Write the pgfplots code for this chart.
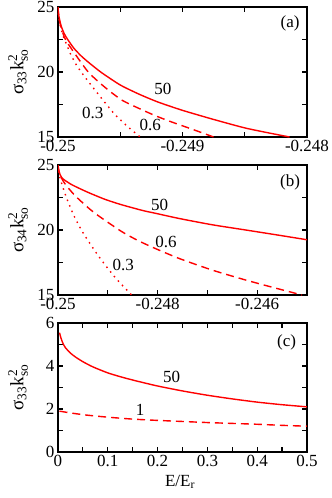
\documentclass[border=0pt]{standalone}
\usepackage{amsmath}
\usepackage{fontspec}
\setmainfont{Liberation Serif}
\usepackage{pgfplots}
\pgfplotsset{compat=1.18}

\newcommand{\lab}{\fontsize{17}{20}\selectfont}
\pgfplotsset{
  panel/.style={
    scale only axis, width=249pt, height=130pt,
    anchor=north west,
    axis line style={line width=1.4pt},
    tick align=inside, xtick pos=both, ytick pos=both,
    major tick length=5pt, minor tick length=5pt,
    every tick/.style={black, line width=1.2pt},
    minor x tick num=1, minor y tick num=1,
    tick label style={font=\lab},
    /pgf/number format/assume math mode=true,
    scaled x ticks=false, scaled y ticks=false,
    xticklabel style={/pgf/number format/fixed, /pgf/number format/precision=3},
    every axis y label/.style={at={(axis description cs:-0.16,0.5)}, rotate=90, anchor=center, font=\fontsize{19}{22}\selectfont},
  },
  s50/.style={red, line width=1.4pt, smooth, tension=0.4},
  sdash/.style={red, line width=1.4pt, dash pattern=on 8pt off 5pt, smooth, tension=0.4},
  sdot/.style={red, line width=1.4pt, dash pattern=on 1.5pt off 4.5pt, smooth, tension=0.4},
}

\begin{document}
\begin{tikzpicture}[x=1pt,y=1pt]
\path[use as bounding box] (0,0) rectangle (332,-498);

% (a)
\begin{axis}[panel, at={(58pt,-7pt)},
  xmin=-0.25, xmax=-0.248, ymin=15, ymax=25,
  xtick={-0.25,-0.249,-0.248}, ytick={15,20,25},
  ylabel={σ$_{\text{33}}$k$^{\text{2}}_{\text{so}}$}]
\addplot[s50] coordinates {
(-0.25,25.0) (-0.249997,24.55) (-0.24999,24.15) (-0.249975,23.55) (-0.24995,22.95)
(-0.249922,22.5) (-0.24987,21.8) (-0.24981,21.2) (-0.249743,20.65) (-0.24965,19.95)
(-0.2495,19.0) (-0.24935,18.3) (-0.2492,17.7) (-0.249,17.05) (-0.24875,16.35)
(-0.2485,15.7) (-0.2483,15.3) (-0.24814,15.0)};
\addplot[sdash] coordinates {
(-0.25,25.0) (-0.249995,24.4) (-0.249985,23.8) (-0.24995,22.7) (-0.2499,21.9)
(-0.249757,20.0) (-0.24962,18.8) (-0.249489,17.85) (-0.24935,17.2) (-0.249221,16.65)
(-0.2491,16.2) (-0.248967,15.75) (-0.24885,15.35) (-0.24875,15.0)};
\addplot[sdot] coordinates {
(-0.25,25.0) (-0.249996,24.4) (-0.249985,23.7) (-0.24996,22.8) (-0.24993,22.1)
(-0.2499,21.4) (-0.24985,20.5) (-0.249783,19.6) (-0.24971,18.7) (-0.249623,17.65)
(-0.24954,16.7) (-0.24944,15.8) (-0.24934,15.0)};
\node[font=\lab] at (axis cs:-0.249157,18.69) {50};
\node[font=\lab] at (axis cs:-0.24972,16.85) {0.3};
\node[font=\lab] at (axis cs:-0.24926,15.9) {0.6};
\node[font=\lab] at (rel axis cs:0.932,0.87) {(a)};
\end{axis}

% (b)
\begin{axis}[panel, at={(58pt,-165pt)},
  xmin=-0.25, xmax=-0.245, ymin=15, ymax=25,
  xtick={-0.25,-0.248,-0.246}, ytick={15,20,25},
  ylabel={σ$_{\text{34}}$k$^{\text{2}}_{\text{so}}$}]
\addplot[s50] coordinates {
(-0.25,25.0) (-0.24998,24.5) (-0.24992,24.0) (-0.24973,23.5) (-0.2494,22.9)
(-0.24905,22.35) (-0.24873,21.95) (-0.2483,21.5) (-0.24806,21.3) (-0.24756,20.88)
(-0.2469,20.4) (-0.24623,20.0) (-0.2456,19.62) (-0.245,19.25)};
\addplot[sdash] coordinates {
(-0.25,25.0) (-0.24998,24.5) (-0.24993,24.0) (-0.24985,23.5) (-0.24966,22.65)
(-0.24939,21.7) (-0.24919,21.1) (-0.24873,19.9) (-0.2484,19.2) (-0.24806,18.6)
(-0.24756,17.8) (-0.24689,16.9) (-0.24623,16.15) (-0.2457,15.6) (-0.2451,15.0)};
\addplot[sdot] coordinates {
(-0.25,25.0) (-0.24999,24.5) (-0.24996,24.0) (-0.24992,23.5) (-0.24985,22.7)
(-0.24979,22.1) (-0.24968,21.1) (-0.24953,20.0) (-0.2494,19.2) (-0.24926,18.4)
(-0.24913,17.7) (-0.249,17.05) (-0.24883,16.25) (-0.24866,15.55) (-0.24852,15.0)};
\node[font=\lab] at (axis cs:-0.24796,21.9) {50};
\node[font=\lab] at (axis cs:-0.24783,19.1) {0.6};
\node[font=\lab] at (axis cs:-0.24869,17.3) {0.3};
\node[font=\lab] at (rel axis cs:0.932,0.864) {(b)};
\end{axis}

% (c)
\begin{axis}[panel, at={(58pt,-323pt)}, height=129pt,
  xmin=0, xmax=0.5, ymin=0, ymax=6,
  xtick={0,0.1,0.2,0.3,0.4,0.5}, ytick={0,2,4,6},
  ylabel={σ$_{\text{33}}$k$^{\text{2}}_{\text{so}}$},
  xlabel={E/E$_{\text{r}}$},
  every axis x label/.style={at={(axis description cs:0.49,-0.233)}, anchor=center, font=\lab}]
\addplot[s50] coordinates {
(0.003,5.55) (0.006,5.3) (0.01,5.05) (0.015,4.85) (0.025,4.6) (0.035,4.42)
(0.05,4.2) (0.07,3.96) (0.1,3.68) (0.13,3.47) (0.16,3.29) (0.2,3.07)
(0.25,2.84) (0.3,2.64) (0.35,2.47) (0.4,2.32) (0.45,2.2) (0.5,2.1)};
\addplot[sdash] coordinates {
(0.003,1.9) (0.03,1.8) (0.06,1.71) (0.1,1.62) (0.15,1.53) (0.2,1.47)
(0.25,1.42) (0.3,1.37) (0.35,1.33) (0.4,1.29) (0.45,1.24) (0.5,1.2)};
\node[font=\lab] at (axis cs:0.228,3.49) {50};
\node[font=\lab] at (axis cs:0.165,1.97) {1};
\node[font=\lab] at (rel axis cs:0.918,0.853) {(c)};
\end{axis}
\end{tikzpicture}
\end{document}
